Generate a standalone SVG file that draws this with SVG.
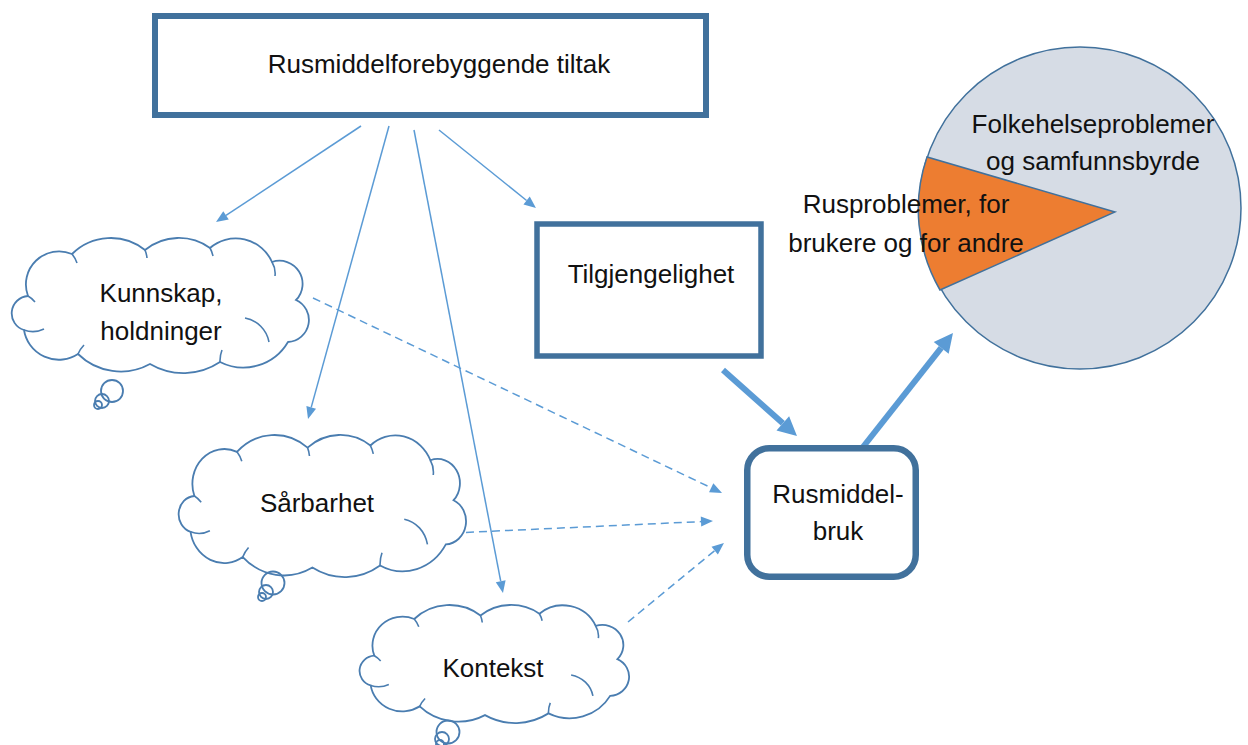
<svg xmlns="http://www.w3.org/2000/svg" width="1248" height="745" viewBox="0 0 1248 745">
<style>
  text { font-family: "Liberation Sans", Arial, sans-serif; font-size: 26px; fill: #111; text-anchor: middle; }
  .box { fill: #fff; stroke: #41719C; }
  .cloud { fill: #fff; stroke: #4A7DB0; stroke-width: 1.8; vector-effect: non-scaling-stroke; }
  .inner { fill: none; stroke: #4A7DB0; stroke-width: 1.6; vector-effect: non-scaling-stroke; }
  .tail { fill: none; stroke: #4A7DB0; stroke-width: 1.8; }
  .thin { fill: none; stroke: #5B9BD5; stroke-width: 1.5; marker-end: url(#ah); }
  .dash { fill: none; stroke: #5B9BD5; stroke-width: 1.5; stroke-dasharray: 8 5; marker-end: url(#ah); }
  .thick { fill: none; stroke: #5B9BD5; stroke-width: 6; marker-end: url(#ahb); }
</style>
<defs>
  <marker id="ah" markerUnits="userSpaceOnUse" markerWidth="12" markerHeight="10" refX="0" refY="5" orient="auto" overflow="visible">
    <path d="M0,0 L12,5 L0,10 Z" fill="#5B9BD5"/>
  </marker>
  <marker id="ahb" markerUnits="userSpaceOnUse" markerWidth="19" markerHeight="19" refX="0" refY="9.5" orient="auto" overflow="visible">
    <path d="M0,0 L19,9.5 L0,19 Z" fill="#5B9BD5"/>
  </marker>
  <g id="cloudShape">
    <path class="cloud" d="M18,58 A33.1,33.1 0 0 1 62,16 A54.9,54.9 0 0 1 135,12 A53.5,53.5 0 0 1 200,10 A39.6,39.6 0 0 1 262,24 A23.1,23.1 0 0 1 286,62 A22,22 0 0 1 278,104 A51.8,51.8 0 0 1 210,124 A66,66 0 0 1 140,126 A60.9,60.9 0 0 1 68,116 A35.2,35.2 0 0 1 14,92 A17.4,17.4 0 0 1 18,58 Z"/>
    <path class="inner" d="M235,80 A30,30 0 0 1 259,104 M262,24 A22,22 0 0 1 265,38 M18,58 A24,24 0 0 1 25,64 M14,92 A26,26 0 0 0 34,91 M68,116 A30,30 0 0 1 74,107 M212,112 A30,30 0 0 0 210,124 M62,16 A28,28 0 0 1 67,25 M135,12 A28,28 0 0 1 137,20 M200,10 A28,28 0 0 1 203,18"/>
  </g>
</defs>

<g id="connectors">
  <path class="thin" d="M361,126 L226,215.4"/>
  <path class="thin" d="M389,126 L311.2,407.4"/>
  <path class="thin" d="M414,130 L500.7,581.2"/>
  <path class="thin" d="M439,130 L526.6,200.5"/>
  <path class="dash" d="M313,298 L711.2,487.8"/>
  <path class="dash" d="M453,533 L701,521.6"/>
  <path class="dash" d="M628,622 L714.7,550.6"/>
  <path class="thick" d="M723,370 L782.8,423.3"/>
  <path class="thick" d="M863,447 L941.2,347.9"/>
</g>

<g id="node-tiltak">
  <rect class="box" x="155" y="16" width="551" height="99" stroke-width="6"/>
  <text x="439" y="73">Rusmiddelforebyggende tiltak</text>
</g>

<g id="node-tilgjengelighet">
  <rect class="box" x="537" y="224" width="224" height="132" stroke-width="5.5"/>
  <text x="651" y="283">Tilgjengelighet</text>
</g>

<g id="node-rusmiddelbruk">
  <rect class="box" x="747.25" y="448.25" width="168.5" height="128.5" rx="22" ry="22" stroke-width="6.5"/>
  <text x="838" y="503">Rusmiddel-</text>
  <text x="838" y="540">bruk</text>
</g>

<g id="node-folkehelse">
  <circle cx="1080" cy="208" r="161" fill="#D6DCE5" stroke="#41719C" stroke-width="1.5"/>
  <path d="M1115,212 L927,157 A161,161 0 0 0 940,290 Z" fill="#ED7D31" stroke="#41719C" stroke-width="1.5"/>
  <text x="1093" y="133">Folkehelseproblemer</text>
  <text x="1093" y="170">og samfunnsbyrde</text>
  <text x="906" y="213">Rusproblemer, for</text>
  <text x="906" y="252">brukere og for andre</text>
</g>

<g id="node-kunnskap">
  <use href="#cloudShape" transform="translate(10,238)"/>
  <circle class="tail" cx="112" cy="391" r="11"/>
  <circle class="tail" cx="102" cy="401" r="7"/>
  <circle class="tail" cx="98" cy="405" r="4"/>
  <text x="161" y="302">Kunnskap,</text>
  <text x="161" y="340">holdninger</text>
</g>

<g id="node-sarbarhet">
  <use href="#cloudShape" transform="translate(177,435) scale(0.967,1.052)"/>
  <circle class="tail" cx="273" cy="583" r="11.5"/>
  <circle class="tail" cx="266" cy="592" r="7"/>
  <circle class="tail" cx="262" cy="597" r="4"/>
  <text x="317" y="512">Sårbarhet</text>
</g>

<g id="node-kontekst">
  <use href="#cloudShape" transform="translate(358,605) scale(0.907,0.874)"/>
  <circle class="tail" cx="448" cy="732" r="11.5"/>
  <circle class="tail" cx="442" cy="739" r="7"/>
  <circle class="tail" cx="440" cy="744" r="4"/>
  <text x="493" y="677">Kontekst</text>
</g>
</svg>
